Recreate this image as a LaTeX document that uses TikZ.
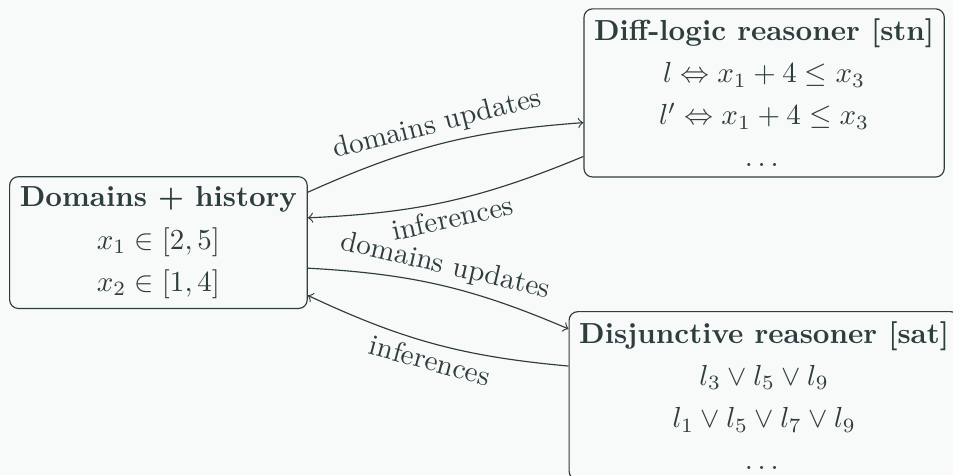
\documentclass[tikz,border=0pt]{standalone}
\usepackage{amsmath, amssymb}

\definecolor{ink}{HTML}{2E3D3D}
\definecolor{paper}{HTML}{F8F9F9}

\begin{document}
\begin{tikzpicture}[
    box/.style={draw=ink, rounded corners=3pt, align=center, inner sep=3.5pt, text=ink},
    flow/.style={->, ink, bend left=10},
    lbl/.style={sloped, inner sep=2pt, text=ink},
  ]
    % Background and page size
    \fill[paper] (0, 0) rectangle (11.55, 5.76);
    \useasboundingbox (0, 0) rectangle (11.55, 5.76);

    % Draw the shared domains store
    \node[box, anchor=west] (store) at (0.11, 2.82)
        {\textbf{Domains + history}\\[2.5pt] $x_1 \in [2, 5]$\\[2.5pt] $x_2 \in [1, 4]$};

    % Draw the two reasoners
    \node[box, anchor=north west] (stn) at (7.07, 5.66)
        {\textbf{Diff-logic reasoner [stn]}\\[2.5pt] $l \Leftrightarrow x_1 + 4 \leq x_3$\\[2.5pt]
         $l' \Leftrightarrow x_1 + 4 \leq x_3$\\[2.5pt] $\dots$};
    \node[box, anchor=north west] (sat) at (6.89, 1.99)
        {\textbf{Disjunctive reasoner [sat]}\\[2.5pt] $l_3 \vee l_5 \vee l_9$\\[2.5pt]
         $l_1 \vee l_5 \vee l_7 \vee l_9$\\[2.5pt] $\dots$};

    % Exchanges with the diff-logic reasoner
    \draw[flow] ([yshift=0.61cm]store.east) to node[lbl, above] {domains updates} ([yshift=-0.36cm]stn.west);
    \draw[flow] ([yshift=-0.77cm]stn.west) to node[lbl, below] {inferences} ([yshift=0.30cm]store.east);

    % Exchanges with the disjunctive reasoner
    \draw[flow] ([yshift=-0.31cm]store.east) to node[lbl, above] {domains updates} ([yshift=0.81cm]sat.west);
    \draw[flow] ([yshift=0.36cm]sat.west) to node[lbl, below] {inferences} ([yshift=-0.64cm]store.east);
\end{tikzpicture}
\end{document}
